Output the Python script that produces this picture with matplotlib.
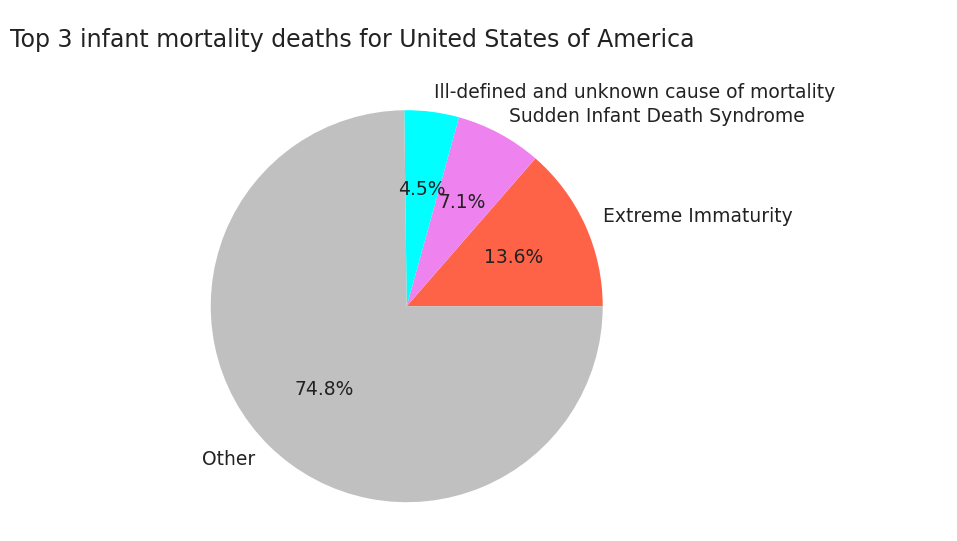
import matplotlib
matplotlib.use("Agg")
import matplotlib.pyplot as plt

labels = ["Extreme Immaturity", "Sudden Infant Death Syndrome",
          "Ill-defined and unknown cause of mortality", "Other"]
shares = [13.6, 7.1, 4.5, 74.8]
colors = ["tomato", "violet", "cyan", "silver"]

fig = plt.figure(figsize=(9.57, 5.41), dpi=100)
ax = fig.add_axes([0.169, -0.019, 0.512, 0.906])
ax.pie(shares, labels=labels, colors=colors, autopct="%1.1f%%",
       textprops={"fontsize": 13.5, "color": "#222222"})
ax.set_aspect("equal")
fig.text(10 / 957, 1 - 40 / 541, "Top 3 infant mortality deaths for United States of America",
         fontsize=17, va="center", ha="left", color="#222222")
fig.savefig("out.png", dpi=100)
